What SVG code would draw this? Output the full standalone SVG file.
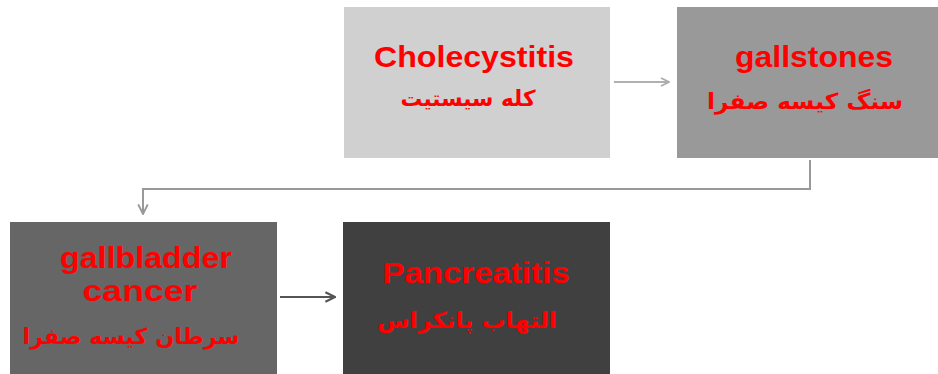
<svg xmlns="http://www.w3.org/2000/svg" width="938" height="374" viewBox="0 0 938 374">
<defs>
<style>
.en{font-family:"Liberation Sans",Arial,sans-serif;font-weight:bold;font-size:30px;fill:#ff0000;text-anchor:middle}
.fa{font-family:"DejaVu Sans","Noto Sans",sans-serif;font-weight:bold;font-size:22px;fill:#ff0000;text-anchor:middle}
.c{fill:none;stroke-width:2}
</style>
<marker id="aL" viewBox="0 0 10 10" refX="9" refY="5" markerWidth="10" markerHeight="10" markerUnits="userSpaceOnUse" orient="auto"><path d="M1,1 L9,5 L1,9" fill="none" stroke="#aaaaaa" stroke-width="1.6"/></marker>
<marker id="aM" viewBox="0 0 10 10" refX="9" refY="5" markerWidth="12" markerHeight="12" markerUnits="userSpaceOnUse" orient="auto"><path d="M1,1 L9,5 L1,9" fill="none" stroke="#999999" stroke-width="1.6"/></marker>
<marker id="aD" viewBox="0 0 10 10" refX="9" refY="5" markerWidth="12" markerHeight="12" markerUnits="userSpaceOnUse" orient="auto"><path d="M1,1 L9,5 L1,9" fill="none" stroke="#555555" stroke-width="1.8"/></marker>
</defs>
<rect width="938" height="374" fill="#ffffff"/>
<g id="connectors">
<path class="c" d="M614,82 L669,82" stroke="#b0b0b0" marker-end="url(#aL)"/>
<path class="c" d="M810,160 L810,189 L143,189 L143,214" stroke="#999999" marker-end="url(#aM)"/>
<path class="c" d="M280,297 L335,297" stroke="#555555" marker-end="url(#aD)"/>
</g>
<g id="cholecystitis">
<rect x="344" y="7" width="266" height="151" fill="#d0d0d0"/>
<text class="en" x="474" y="67" textLength="200" lengthAdjust="spacingAndGlyphs">Cholecystitis</text>
<text class="fa" x="468" y="106" direction="rtl" textLength="135" lengthAdjust="spacingAndGlyphs">کله سیستیت</text>
</g>
<g id="gallstones">
<rect x="677" y="7" width="261" height="151" fill="#999999"/>
<text class="en" x="814" y="67" textLength="158" lengthAdjust="spacingAndGlyphs">gallstones</text>
<text class="fa" x="805" y="109" direction="rtl" textLength="196" lengthAdjust="spacingAndGlyphs">سنگ کیسه صفرا</text>
</g>
<g id="gallbladder-cancer">
<rect x="10" y="222" width="267" height="152" fill="#666666"/>
<text class="en" x="146" y="268" textLength="172" lengthAdjust="spacingAndGlyphs">gallbladder</text>
<text class="en" x="140" y="301" textLength="115" lengthAdjust="spacingAndGlyphs">cancer</text>
<text class="fa" x="131" y="344" direction="rtl" textLength="217" lengthAdjust="spacingAndGlyphs">سرطان کیسه صفرا</text>
</g>
<g id="pancreatitis">
<rect x="343" y="222" width="267" height="152" fill="#404040"/>
<text class="en" x="476" y="283" textLength="187" lengthAdjust="spacingAndGlyphs">Pancreatitis</text>
<text class="fa" x="467" y="328" direction="rtl" textLength="180" lengthAdjust="spacingAndGlyphs">التهاب پانکراس</text>
</g>
</svg>
